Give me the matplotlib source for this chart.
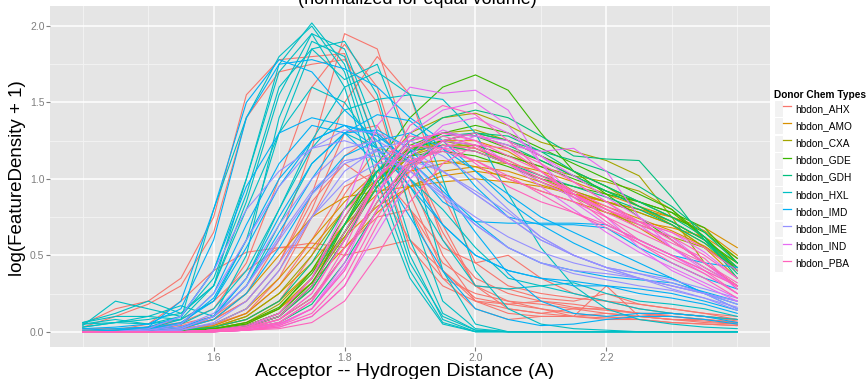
import matplotlib
matplotlib.use("Agg")
import matplotlib.pyplot as plt
from matplotlib.lines import Line2D
from matplotlib.patches import Rectangle
from matplotlib.legend_handler import HandlerTuple

plt.rcParams['font.family'] = ['Liberation Sans', 'DejaVu Sans']

# ---------------- data ----------------
x_grid = [1.40, 1.45, 1.50, 1.55, 1.60, 1.65, 1.70, 1.75, 1.80, 1.85, 1.90,
          1.95, 2.00, 2.05, 2.10, 2.15, 2.20, 2.25, 2.30, 2.35, 2.40]

donor_types = ["hbdon_AHX", "hbdon_AMO", "hbdon_CXA", "hbdon_GDE", "hbdon_GDH",
               "hbdon_HXL", "hbdon_IMD", "hbdon_IME", "hbdon_IND", "hbdon_PBA"]
colors = ["#F8766D", "#D89000", "#A3A500", "#39B600", "#00BF7D",
          "#00BFC4", "#00B0F6", "#9590FF", "#E76BF3", "#FF62BC"]

ahx = [
    [0.02,0.02,0.03,0.05,0.10,0.25,0.60,1.20,1.95,1.85,1.20,0.60,0.35,0.25,0.20,0.18,0.15,0.12,0.10,0.08,0.06],
    [0.01,0.01,0.02,0.04,0.08,0.20,0.45,0.90,1.50,1.80,1.55,0.90,0.45,0.30,0.25,0.22,0.20,0.18,0.15,0.12,0.08],
    [0.05,0.15,0.20,0.35,0.75,1.55,1.78,1.80,1.82,1.20,0.55,0.30,0.20,0.15,0.12,0.15,0.12,0.10,0.08,0.06,0.05],
    [0.03,0.10,0.18,0.30,0.65,1.40,1.70,1.75,1.78,1.50,0.80,0.35,0.25,0.20,0.18,0.15,0.15,0.12,0.10,0.08,0.06],
    [0.01,0.01,0.03,0.06,0.15,0.45,1.00,1.60,1.88,1.60,0.90,0.40,0.20,0.12,0.10,0.10,0.08,0.08,0.06,0.05,0.04],
    [0.00,0.01,0.05,0.20,0.40,0.52,0.55,0.58,0.55,0.75,0.80,0.45,0.30,0.28,0.22,0.20,0.25,0.18,0.15,0.12,0.10],
    [0.00,0.00,0.01,0.03,0.08,0.20,0.45,0.85,1.10,0.95,0.60,0.35,0.15,0.08,0.10,0.10,0.30,0.10,0.12,0.10,0.08],
    [0.00,0.00,0.00,0.02,0.05,0.15,0.40,0.80,1.30,1.35,1.00,0.50,0.20,0.18,0.15,0.12,0.10,0.08,0.06,0.05,0.04],
    [0.00,0.00,0.01,0.02,0.05,0.12,0.30,0.60,0.95,1.05,0.80,0.55,0.45,0.50,0.35,0.25,0.20,0.15,0.12,0.10,0.08],
    [0.00,0.00,0.00,0.01,0.03,0.08,0.20,0.50,0.90,1.20,1.15,0.70,0.30,0.20,0.15,0.10,0.12,0.10,0.08,0.08,0.06],
    [0.00,0.00,0.00,0.01,0.04,0.12,0.35,0.75,1.15,1.30,1.10,0.65,0.30,0.15,0.12,0.10,0.09,0.10,0.08,0.07,0.05],
    [0.00,0.01,0.03,0.08,0.20,0.40,0.55,0.55,0.50,0.55,0.60,0.40,0.22,0.18,0.20,0.16,0.14,0.12,0.12,0.10,0.07],
]
amo = [
    [0,0,0,0.01,0.03,0.10,0.25,0.45,0.70,0.90,1.05,1.10,1.12,1.10,1.05,0.98,0.90,0.82,0.75,0.68,0.55],
    [0,0,0,0.01,0.05,0.15,0.35,0.60,0.85,1.05,1.18,1.22,1.20,1.12,1.02,0.92,0.85,0.78,0.70,0.55,0.35],
    [0,0,0,0.02,0.08,0.25,0.50,0.75,0.88,0.92,0.95,0.98,1.00,0.98,0.95,0.90,0.85,0.80,0.72,0.60,0.40],
    [0,0,0,0,0.02,0.05,0.15,0.35,0.65,0.95,1.15,1.25,1.25,1.18,1.05,0.92,0.80,0.68,0.55,0.42,0.30],
    [0,0,0,0.01,0.04,0.12,0.30,0.55,0.80,1.00,1.10,1.12,1.08,1.00,0.92,0.85,0.78,0.72,0.68,0.62,0.48],
    [0,0,0,0.01,0.03,0.08,0.20,0.40,0.62,0.82,0.95,1.02,1.05,1.02,0.96,0.90,0.85,0.80,0.75,0.66,0.50],
    [0,0,0,0,0.02,0.06,0.15,0.32,0.55,0.78,0.95,1.05,1.08,1.05,0.98,0.90,0.82,0.74,0.66,0.56,0.42],
]
cxa = [
    [0,0,0,0,0.01,0.04,0.12,0.35,0.70,1.05,1.30,1.40,1.43,1.35,1.24,1.18,1.12,1.02,0.75,0.45,0.30],
    [0,0,0,0,0.01,0.03,0.10,0.28,0.60,0.95,1.20,1.30,1.32,1.25,1.15,1.05,0.95,0.82,0.70,0.55,0.40],
    [0,0,0,0.01,0.03,0.10,0.25,0.50,0.80,1.05,1.20,1.22,1.18,1.10,1.00,0.92,0.85,0.78,0.70,0.58,0.45],
    [0,0,0,0,0.02,0.06,0.18,0.40,0.70,1.00,1.18,1.25,1.20,1.10,0.98,0.88,0.78,0.70,0.62,0.55,0.42],
    [0,0,0,0,0.01,0.04,0.12,0.32,0.62,0.95,1.15,1.22,1.22,1.15,1.08,1.02,0.98,0.92,0.80,0.60,0.40],
]
gde = [
    [0,0,0,0,0.01,0.03,0.10,0.30,0.70,1.10,1.40,1.60,1.68,1.58,1.30,1.05,0.90,0.75,0.60,0.45,0.30],
    [0,0,0,0,0.01,0.03,0.10,0.30,0.65,1.00,1.22,1.30,1.28,1.20,1.12,1.02,0.92,0.82,0.72,0.60,0.45],
    [0,0,0,0,0.02,0.05,0.15,0.40,0.75,1.05,1.20,1.25,1.22,1.15,1.08,1.00,0.92,0.85,0.78,0.62,0.40],
    [0,0,0,0,0,0.02,0.08,0.22,0.50,0.85,1.10,1.25,1.30,1.25,1.15,1.05,0.95,0.85,0.75,0.65,0.48],
    [0,0,0,0,0.01,0.04,0.12,0.32,0.65,0.98,1.18,1.30,1.35,1.30,1.20,1.10,1.00,0.90,0.80,0.62,0.42],
    [0,0,0,0.01,0.02,0.06,0.16,0.38,0.70,1.00,1.15,1.18,1.15,1.08,1.00,0.95,0.90,0.85,0.78,0.68,0.45],
]
gdh = [
    [0,0,0,0,0.01,0.03,0.10,0.30,0.65,1.00,1.25,1.40,1.45,1.40,1.28,1.15,1.13,1.12,0.88,0.60,0.38],
    [0,0,0,0,0.01,0.04,0.12,0.35,0.70,1.05,1.25,1.30,1.28,1.22,1.12,1.02,0.92,0.82,0.72,0.60,0.42],
    [0,0,0,0.01,0.03,0.08,0.20,0.45,0.80,1.05,1.18,1.22,1.18,1.10,1.02,0.95,0.88,0.80,0.70,0.58,0.40],
    [0,0,0,0,0.01,0.02,0.06,0.18,0.45,0.80,1.08,1.25,1.30,1.28,1.18,1.05,0.95,0.85,0.75,0.62,0.35],
    [0,0,0,0,0.01,0.03,0.10,0.28,0.60,0.95,1.18,1.28,1.30,1.25,1.18,1.12,1.05,0.95,0.82,0.65,0.45],
]
hxl = [
    [0.05,0.08,0.05,0.10,0.40,1.00,1.75,2.02,1.75,1.10,0.45,0.10,0.01,0,0,0,0,0,0,0,0],
    [0.03,0.06,0.08,0.12,0.30,0.85,1.55,1.95,1.85,1.30,0.60,0.12,0.01,0,0,0,0,0,0,0,0],
    [0.06,0.10,0.10,0.08,0.20,0.60,1.30,1.85,1.90,1.55,0.80,0.20,0.02,0,0,0,0,0,0,0,0],
    [0.04,0.20,0.15,0.10,0.35,0.90,1.60,1.85,1.65,1.75,1.20,0.40,0.05,0,0,0,0,0,0,0,0],
    [0.00,0.01,0.02,0.05,0.15,0.40,0.80,1.25,1.60,1.70,1.55,1.00,0.40,0.15,0.05,0.02,0.01,0,0,0,0],
    [0.00,0.00,0.01,0.03,0.10,0.35,0.80,1.20,1.45,1.52,1.55,1.52,1.30,0.90,0.55,0.30,0.15,0.08,0.05,0.03,0.02],
    [0.00,0.00,0.02,0.08,0.30,0.80,1.30,1.60,1.50,1.20,1.00,0.80,0.55,0.35,0.30,0.32,0.25,0.20,0.18,0.15,0.10],
    [0.06,0.12,0.20,0.12,0.30,1.00,1.70,1.95,1.60,0.90,0.35,0.05,0,0,0,0,0,0,0,0,0],
    [0.03,0.06,0.10,0.17,0.10,0.50,1.40,1.90,1.80,1.20,0.50,0.08,0,0,0,0,0,0,0,0,0],
    [0.00,0.00,0.01,0.03,0.10,0.30,0.70,1.10,1.30,1.20,0.95,0.60,0.30,0.28,0.30,0.25,0.20,0.15,0.12,0.10,0.08],
    [0.05,0.06,0.05,0.08,0.80,1.40,1.80,2.00,1.70,1.00,0.40,0.06,0,0,0,0,0,0,0,0,0],
]
imd = [
    [0.02,0.03,0.05,0.15,0.60,1.40,1.75,1.78,1.72,1.60,1.40,1.25,1.05,0.90,0.75,0.65,0.55,0.45,0.35,0.25,0.15],
    [0.00,0.00,0.01,0.03,0.10,0.30,0.65,1.00,1.30,1.42,1.38,1.20,0.95,0.75,0.70,0.70,0.68,0.55,0.45,0.35,0.28],
    [0.00,0.00,0.02,0.06,0.20,0.55,0.95,1.25,1.35,1.30,1.10,0.85,0.72,0.71,0.71,0.71,0.70,0.60,0.50,0.45,0.42],
    [0.00,0.00,0.01,0.05,0.25,0.70,1.10,1.35,1.30,1.10,0.75,0.40,0.15,0.08,0.04,0.05,0.08,0.10,0.10,0.08,0.05],
    [0.01,0.02,0.03,0.20,0.80,1.50,1.78,1.70,1.45,1.25,1.00,0.70,0.50,0.40,0.35,0.30,0.30,0.25,0.22,0.18,0.12],
    [0.00,0.00,0.00,0.02,0.08,0.25,0.55,0.90,1.15,1.25,1.30,1.20,1.05,0.85,0.70,0.58,0.48,0.40,0.35,0.25,0.18],
    [0.00,0.01,0.03,0.10,0.40,0.95,1.30,1.40,1.35,1.20,0.95,0.70,0.50,0.40,0.35,0.33,0.30,0.28,0.25,0.20,0.14],
    [0.00,0.00,0.01,0.05,0.22,0.60,1.00,1.25,1.35,1.28,1.12,0.92,0.72,0.55,0.45,0.40,0.36,0.34,0.32,0.26,0.20],
    [0.00,0.00,0.00,0.02,0.10,0.35,0.75,1.10,1.30,1.32,1.20,0.95,0.65,0.38,0.20,0.12,0.10,0.12,0.12,0.10,0.06],
]
ime = [
    [0,0,0.01,0.05,0.25,0.60,0.95,1.20,1.32,1.30,1.20,1.05,0.90,0.75,0.60,0.50,0.42,0.38,0.32,0.25,0.18],
    [0,0,0.02,0.10,0.40,0.80,1.05,1.20,1.25,1.18,1.05,0.90,0.75,0.62,0.52,0.45,0.40,0.35,0.30,0.25,0.20],
    [0,0,0,0.02,0.10,0.30,0.60,0.90,1.10,1.18,1.15,1.05,0.90,0.75,0.60,0.50,0.42,0.35,0.30,0.25,0.15],
    [0,0,0.01,0.03,0.12,0.35,0.70,1.00,1.20,1.25,1.12,0.90,0.70,0.55,0.45,0.40,0.38,0.35,0.30,0.25,0.20],
    [0,0,0,0.01,0.05,0.15,0.40,0.75,1.05,1.20,1.25,1.15,1.00,0.80,0.62,0.50,0.42,0.38,0.34,0.28,0.22],
    [0,0,0,0.01,0.06,0.20,0.45,0.75,0.98,1.10,1.12,1.05,0.92,0.78,0.62,0.50,0.42,0.35,0.28,0.22,0.14],
    [0,0,0,0.02,0.10,0.30,0.62,0.92,1.12,1.15,1.05,0.88,0.70,0.55,0.45,0.38,0.34,0.30,0.27,0.22,0.16],
]
ind = [
    [0,0,0,0,0.01,0.03,0.12,0.35,0.80,1.35,1.60,1.56,1.58,1.45,1.10,0.85,0.70,0.60,0.50,0.38,0.25],
    [0,0,0,0,0.01,0.02,0.08,0.25,0.60,1.00,1.25,1.30,1.28,1.22,1.18,1.20,1.05,0.75,0.55,0.40,0.30],
    [0,0,0,0,0,0.01,0.05,0.15,0.40,0.80,1.15,1.35,1.40,1.30,1.15,0.98,0.85,0.70,0.55,0.42,0.30],
    [0,0,0,0,0.01,0.02,0.06,0.20,0.50,0.90,1.20,1.32,1.25,1.10,0.95,0.80,0.65,0.52,0.42,0.32,0.22],
    [0,0,0,0,0,0.01,0.04,0.15,0.45,0.90,1.30,1.45,1.50,1.35,1.10,0.90,0.75,0.55,0.40,0.30,0.20],
    [0,0,0,0,0,0.01,0.03,0.10,0.30,0.65,1.00,1.20,1.28,1.25,1.15,1.02,0.88,0.75,0.62,0.45,0.28],
    [0,0,0,0,0.01,0.02,0.05,0.15,0.42,0.80,1.10,1.25,1.22,1.10,0.98,0.88,0.80,0.72,0.65,0.52,0.35],
]
pba = [
    [0,0,0,0,0.01,0.03,0.10,0.30,0.65,1.00,1.25,1.30,1.25,1.15,1.05,0.90,0.75,0.60,0.50,0.40,0.30],
    [0,0,0,0,0,0.02,0.06,0.20,0.50,0.90,1.20,1.28,1.22,1.10,1.00,0.90,0.80,0.70,0.62,0.50,0.35],
    [0,0,0,0,0.01,0.02,0.08,0.25,0.60,1.00,1.22,1.20,1.12,1.00,0.92,0.85,0.75,0.65,0.55,0.45,0.32],
    [0,0,0,0,0,0.01,0.03,0.10,0.30,0.70,1.05,1.25,1.30,1.20,1.05,0.90,0.78,0.68,0.58,0.48,0.28],
    [0,0,0,0,0.01,0.04,0.12,0.35,0.75,1.10,1.28,1.25,1.10,0.95,0.85,0.78,0.70,0.60,0.50,0.40,0.25],
    [0,0,0,0,0,0.01,0.05,0.15,0.40,0.80,1.10,1.20,1.18,1.10,1.00,0.90,0.80,0.72,0.65,0.55,0.40],
    [0,0,0,0,0,0.02,0.06,0.20,0.55,1.00,1.35,1.48,1.42,1.25,1.05,0.88,0.72,0.58,0.45,0.35,0.22],
    [0,0,0,0,0,0.01,0.04,0.12,0.35,0.75,1.08,1.22,1.20,1.12,1.02,0.92,0.82,0.72,0.60,0.45,0.30],
    [0,0,0,0,0.01,0.03,0.08,0.22,0.50,0.85,1.12,1.18,1.12,1.02,0.90,0.78,0.68,0.58,0.48,0.38,0.25],
    [0,0,0,0,0,0.01,0.02,0.06,0.20,0.50,0.85,1.10,1.22,1.20,1.10,0.98,0.85,0.72,0.60,0.45,0.30],
]

series_by_type = [ahx, amo, cxa, gde, gdh, hxl, imd, ime, ind, pba]

x_major = [1.6, 1.8, 2.0, 2.2]
x_minor = [1.4, 1.5, 1.7, 1.9, 2.1, 2.3, 2.4]
y_major = [0.0, 0.5, 1.0, 1.5, 2.0]
y_minor = [0.25, 0.75, 1.25, 1.75]

# ---------------- figure ----------------
W, H = 868, 379
fig = plt.figure(figsize=(W / 100, H / 100), dpi=100)
ax = fig.add_axes([50 / W, 1 - 347 / H, 720 / W, 341 / H])
ax.set_facecolor("#E5E5E5")
for s in ax.spines.values():
    s.set_visible(False)

for v in x_minor:
    ax.axvline(v, color="#F2F2F2", lw=0.7, zorder=0)
for v in y_minor:
    ax.axhline(v, color="#F2F2F2", lw=0.7, zorder=0)
for v in x_major:
    ax.axvline(v, color="white", lw=1.1, zorder=0.5)
for v in y_major:
    ax.axhline(v, color="white", lw=1.1, zorder=0.5)

for col, group in zip(colors, series_by_type):
    for ys in group:
        ax.plot(x_grid, ys, color=col, lw=0.8, zorder=2)

ax.set_xlim(1.35, 2.45)
ax.set_ylim(-0.10, 2.131)
ax.set_xticks(x_major)
ax.set_xticklabels([f"{v:.1f}" for v in x_major])
ax.set_yticks(y_major)
ax.set_yticklabels([f"{v:.1f}" for v in y_major])
ax.tick_params(axis="both", colors="#7F7F7F", labelcolor="#7F7F7F",
               labelsize=7.5, length=3, width=0.8, pad=1)

fig.text(18 / W, 1 - 178 / H, "log(FeatureDensity + 1)", rotation=90,
         ha="center", va="center", fontsize=13.5)
fig.text(405 / W, 1 - 371 / H, "Acceptor -- Hydrogen Distance (A)",
         ha="center", va="center", fontsize=14)
fig.text(417 / W, 1 - 4 / H, "(normalized for equal volume)",
         ha="center", va="baseline", fontsize=13)

# legend
handles = []
for col in colors:
    bg = Rectangle((0, 0), 1, 1, facecolor="#F2F2F2", edgecolor="white", lw=0.8)
    ln = Line2D([], [], color=col, lw=0.9)
    handles.append((bg, ln))
leg = fig.legend(handles, donor_types, loc="upper left",
                 bbox_to_anchor=(774 / W, 1 - 90 / H), frameon=False,
                 title="Donor Chem Types", fontsize=7.3,
                 title_fontproperties={"weight": "bold", "size": 7.3},
                 handler_map={tuple: HandlerTuple(ndivide=None, pad=0)},
                 handlelength=1.7, handleheight=2.2, labelspacing=0.02,
                 handletextpad=0.4, borderpad=0, borderaxespad=0)
leg._legend_box.align = "left"

fig.savefig("out.png", dpi=100)
